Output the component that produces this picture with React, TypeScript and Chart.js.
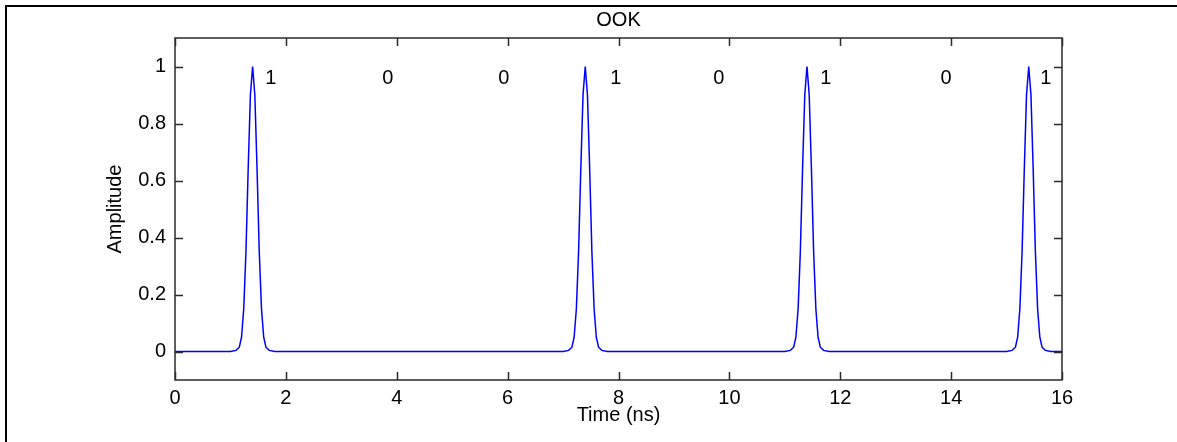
import React, { useEffect, useRef } from 'react';
import { Chart, registerables } from 'chart.js';

Chart.register(...registerables);

// ---- data ----
const chartTitle = 'OOK';
const xAxisTitle = 'Time (ns)';
const yAxisTitle = 'Amplitude';

const xTicks = [0, 2, 4, 6, 8, 10, 12, 14, 16];
const xTickLabels = ['0', '2', '4', '6', '8', '10', '12', '14', '16'];
const yTicks = [0, 0.2, 0.4, 0.6, 0.8, 1];
const yTickLabels = ['0', '0.2', '0.4', '0.6', '0.8', '1'];
const xLimits = [0, 16];
const yLimits = [-0.1, 1.1];

const signalTime = [
  0,
  1.0, 1.1, 1.16, 1.2, 1.24, 1.28, 1.32, 1.36, 1.4, 1.44, 1.48, 1.52, 1.56, 1.6, 1.64, 1.7, 1.8,
  7.0, 7.1, 7.16, 7.2, 7.24, 7.28, 7.32, 7.36, 7.4, 7.44, 7.48, 7.52, 7.56, 7.6, 7.64, 7.7, 7.8,
  11.0, 11.1, 11.16, 11.2, 11.24, 11.28, 11.32, 11.36, 11.4, 11.44, 11.48, 11.52, 11.56, 11.6, 11.64, 11.7, 11.8,
  15.0, 15.1, 15.16, 15.2, 15.24, 15.28, 15.32, 15.36, 15.4, 15.44, 15.48, 15.52, 15.56, 15.6, 15.64, 15.7, 15.8,
  16,
];
const signalAmp = [
  0,
  0, 0.004, 0.015, 0.05, 0.15, 0.35, 0.64, 0.9, 1.0, 0.9, 0.64, 0.35, 0.15, 0.05, 0.015, 0.004, 0,
  0, 0.004, 0.015, 0.05, 0.15, 0.35, 0.64, 0.9, 1.0, 0.9, 0.64, 0.35, 0.15, 0.05, 0.015, 0.004, 0,
  0, 0.004, 0.015, 0.05, 0.15, 0.35, 0.64, 0.9, 1.0, 0.9, 0.64, 0.35, 0.15, 0.05, 0.015, 0.004, 0,
  0, 0.004, 0.015, 0.05, 0.15, 0.35, 0.64, 0.9, 1.0, 0.9, 0.64, 0.35, 0.15, 0.05, 0.015, 0.004, 0,
  0,
];

const bitLabels = ['1', '0', '0', '1', '0', '1', '0', '1'];
const bitLabelTime = [1.73, 3.84, 5.93, 7.95, 9.81, 11.74, 13.91, 15.71];
const bitLabelAmp = [0.958, 0.958, 0.958, 0.958, 0.958, 0.958, 0.958, 0.958];

const FONT = "'Liberation Sans', Arial, sans-serif";
const FONT_SIZE = 20;

const decorPlugin = {
  id: 'decor',
  beforeDraw(chart: any) {
    const ctx = chart.ctx;
    ctx.save();
    ctx.fillStyle = '#ffffff';
    ctx.fillRect(0, 0, chart.width, chart.height);
    ctx.fillStyle = '#000000';
    ctx.fillRect(5, 5, chart.width - 5, 2);
    ctx.fillRect(5, 5, 2, chart.height - 5);
    ctx.restore();
  },
  afterDatasetsDraw(chart: any) {
    const ctx = chart.ctx;
    const { left, right, top, bottom } = chart.chartArea;
    const xs = chart.scales.x;
    const ys = chart.scales.y;
    const tl = 8;
    ctx.save();
    ctx.strokeStyle = '#2a2a2a';
    ctx.lineWidth = 1.5;
    ctx.beginPath();
    ctx.rect(left, top, right - left, bottom - top);
    for (const v of xTicks) {
      const px = Math.round(xs.getPixelForValue(v)) + 0.5;
      ctx.moveTo(px, bottom);
      ctx.lineTo(px, bottom - tl);
      ctx.moveTo(px, top);
      ctx.lineTo(px, top + tl);
    }
    for (const v of yTicks) {
      const py = Math.round(ys.getPixelForValue(v)) + 0.5;
      ctx.moveTo(left, py);
      ctx.lineTo(left + tl, py);
      ctx.moveTo(right, py);
      ctx.lineTo(right - tl, py);
    }
    ctx.stroke();

    ctx.fillStyle = '#000000';
    ctx.font = `${FONT_SIZE}px ${FONT}`;
    ctx.textAlign = 'center';
    ctx.textBaseline = 'middle';
    bitLabels.forEach((t, i) => {
      ctx.fillText(t, xs.getPixelForValue(bitLabelTime[i]), ys.getPixelForValue(bitLabelAmp[i]));
    });
    // title centred over the plot box
    ctx.fillText(chartTitle, (left + right) / 2, 20);
    ctx.restore();
  },
};

export default function App() {
  const canvasRef = useRef<HTMLCanvasElement | null>(null);

  useEffect(() => {
    const canvas = canvasRef.current;
    if (!canvas) return;
    const points = signalTime.map((t, i) => ({ x: t, y: signalAmp[i] }));
    const chart = new Chart(canvas, {
      type: 'line',
      data: {
        datasets: [
          {
            data: points,
            borderColor: '#0000ff',
            borderWidth: 1.5,
            pointRadius: 0,
            tension: 0,
            fill: false,
          },
        ],
      },
      options: {
        animation: false,
        responsive: false,
        devicePixelRatio: 1,
        layout: { padding: { left: 0, right: 115, top: 38, bottom: 0 } },
        plugins: {
          legend: { display: false },
          tooltip: { enabled: false },
          title: { display: false },
        },
        scales: {
          x: {
            type: 'linear',
            min: xLimits[0],
            max: xLimits[1],
            grid: { display: false, drawTicks: false, tickLength: 0 },
            border: { display: false },
            afterBuildTicks: (scale: any) => {
              scale.ticks = xTicks.map((v) => ({ value: v }));
            },
            afterFit: (scale: any) => {
              scale.height = 62;
            },
            ticks: {
              autoSkip: false,
              maxRotation: 0,
              padding: 6,
              color: '#000',
              font: { family: FONT, size: FONT_SIZE },
              callback: (value: any) => xTickLabels[xTicks.indexOf(Number(value))],
            },
            title: {
              display: true,
              text: xAxisTitle,
              color: '#000',
              font: { family: FONT, size: FONT_SIZE, lineHeight: 1.2 },
              padding: { top: 0, bottom: 15 },
            },
          },
          y: {
            type: 'linear',
            min: yLimits[0],
            max: yLimits[1],
            grid: { display: false, drawTicks: false, tickLength: 0 },
            border: { display: false },
            afterBuildTicks: (scale: any) => {
              scale.ticks = yTicks.map((v) => ({ value: v }));
            },
            afterFit: (scale: any) => {
              scale.width = 175;
            },
            ticks: {
              autoSkip: false,
              padding: 9,
              color: '#000',
              font: { family: FONT, size: FONT_SIZE },
              callback: (value: any) => {
                const idx = yTicks.findIndex((v) => Math.abs(v - Number(value)) < 1e-9);
                return idx >= 0 ? yTickLabels[idx] : '';
              },
            },
            title: {
              display: true,
              text: yAxisTitle,
              color: '#000',
              font: { family: FONT, size: FONT_SIZE, lineHeight: 1.2 },
              padding: { top: 103, bottom: 0 },
            },
          },
        },
      },
      plugins: [decorPlugin],
    } as any);
    return () => chart.destroy();
  }, []);

  return (
    <div style={{ position: 'absolute', left: 0, top: 0, width: 1177, height: 442 }}>
      <canvas ref={canvasRef} width={1177} height={442} style={{ display: 'block' }} />
    </div>
  );
}
